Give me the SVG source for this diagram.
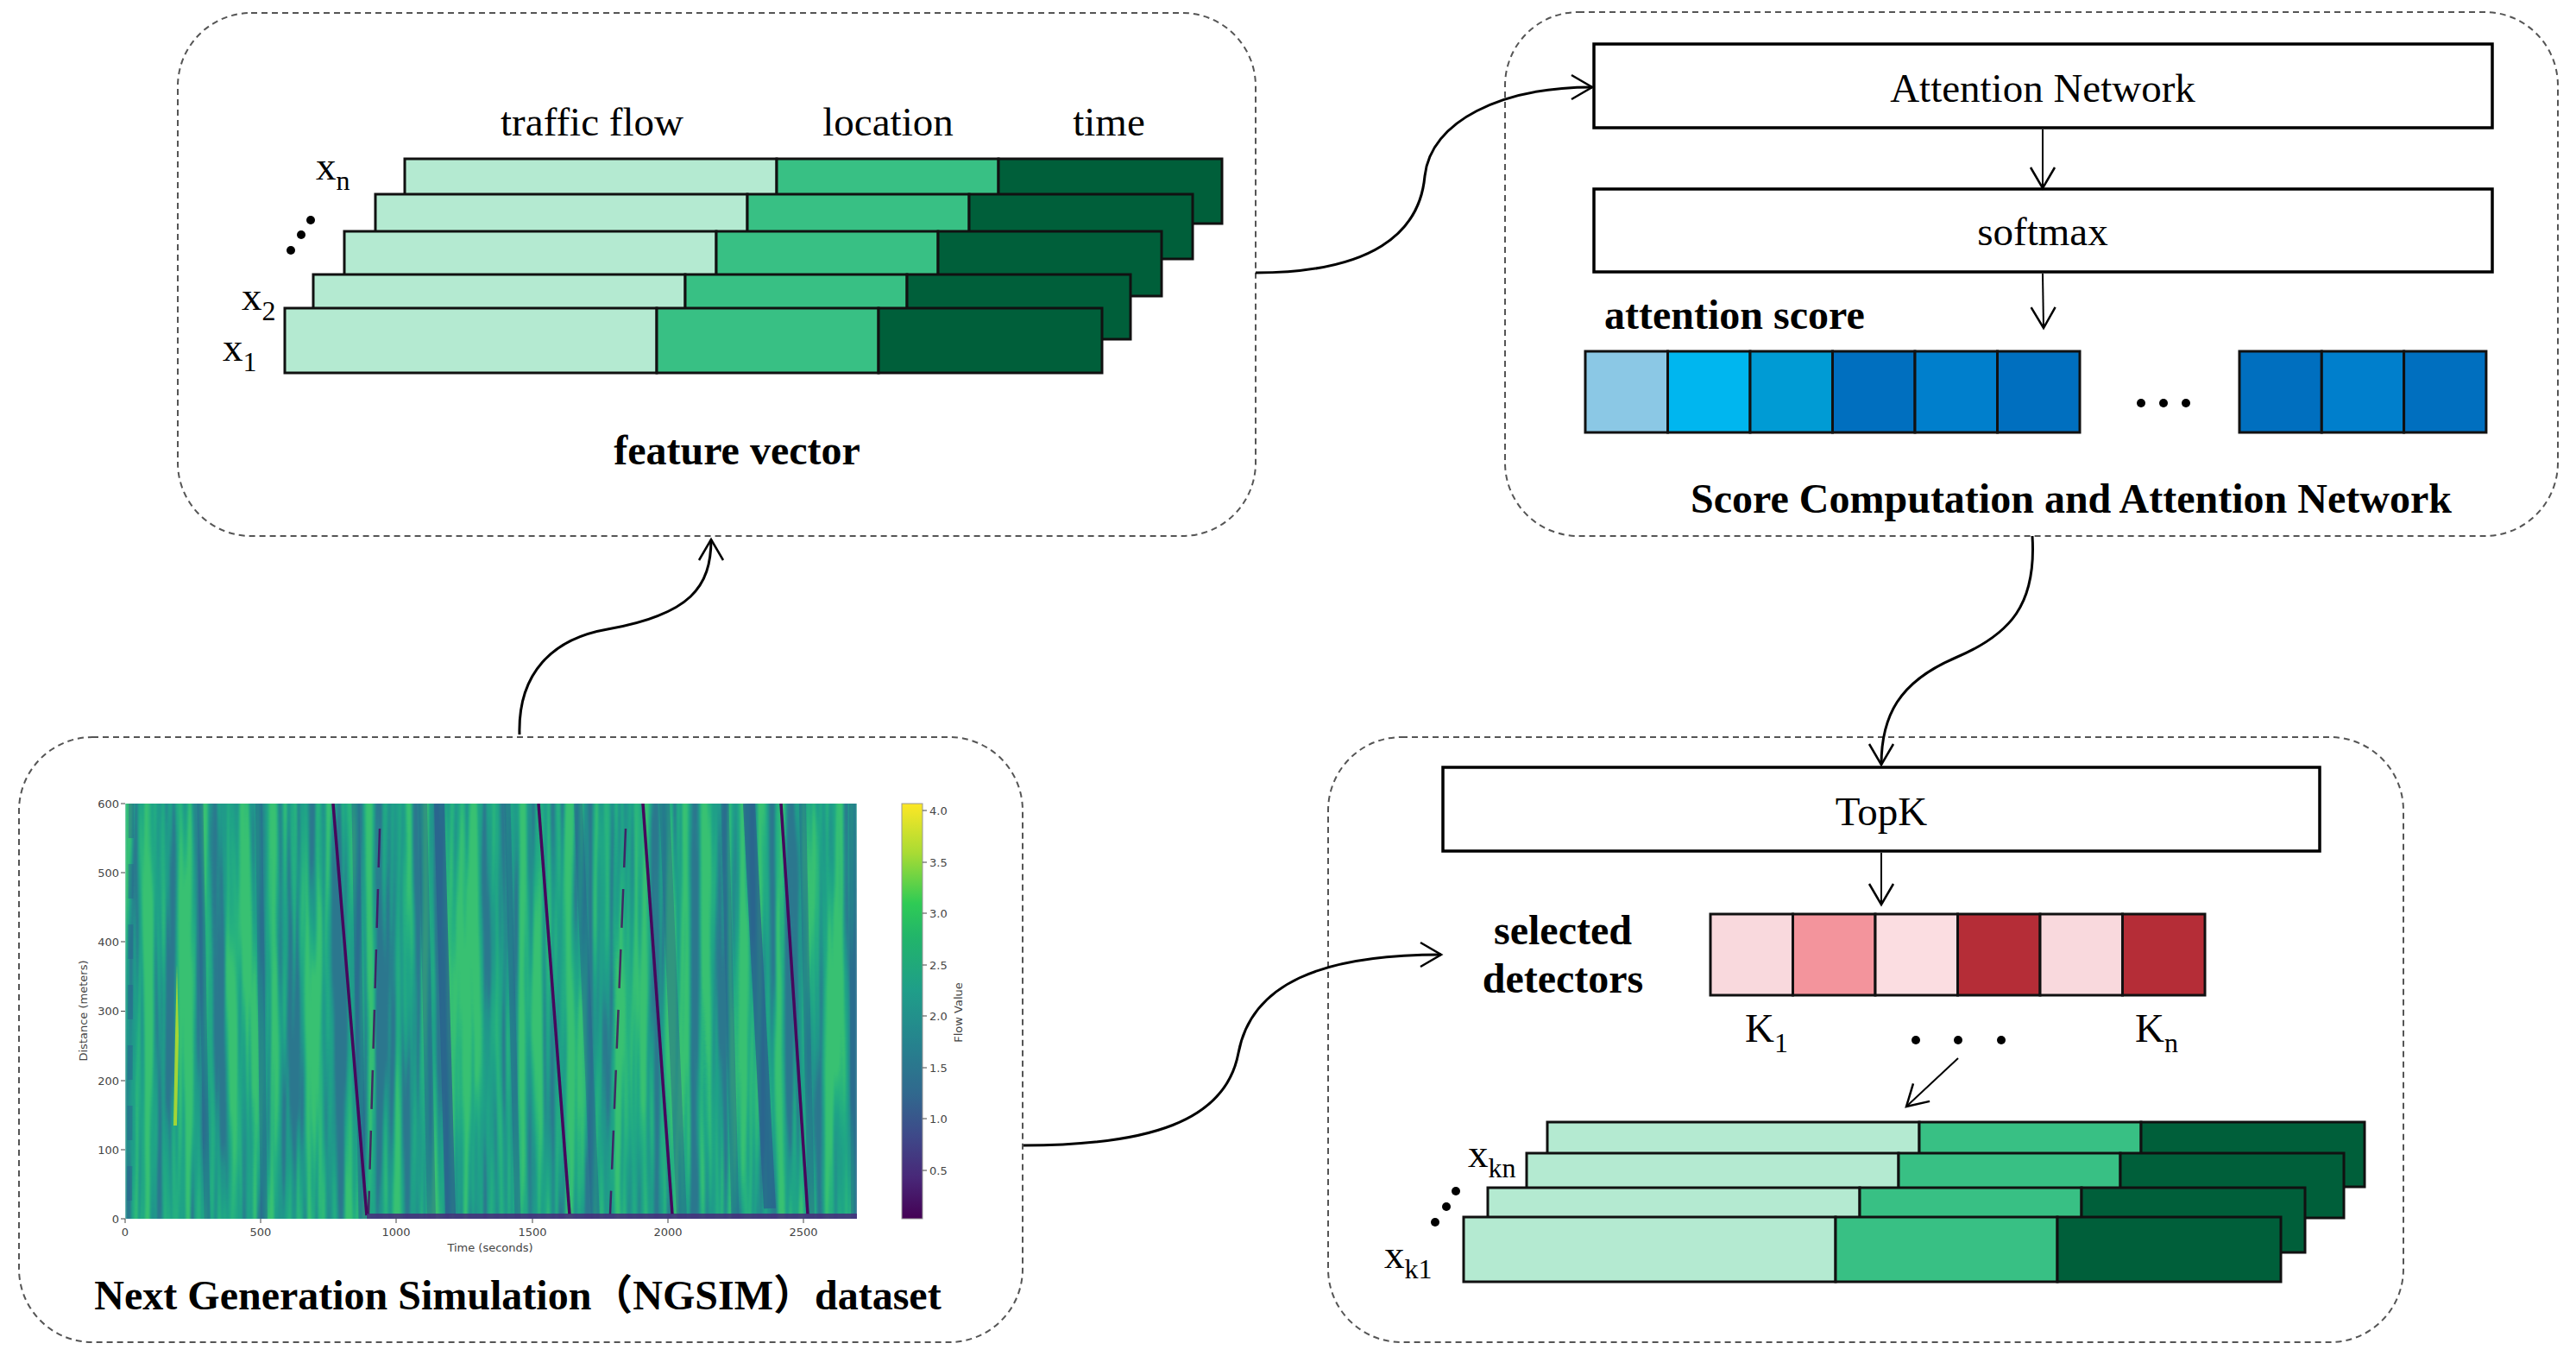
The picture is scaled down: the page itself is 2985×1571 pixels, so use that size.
<svg xmlns="http://www.w3.org/2000/svg" xmlns:xlink="http://www.w3.org/1999/xlink" width="2985" height="1571" viewBox="0 0 2985 1571">
<style>
.lbl{font-family:"Liberation Serif","Times New Roman",serif;font-size:47px;fill:#000}
.bold{font-family:"Liberation Serif","Times New Roman","Noto Sans CJK SC",serif;font-size:48px;font-weight:bold;fill:#000}
.tick{font-family:"DejaVu Sans","Liberation Sans",sans-serif;font-size:13px;fill:#444}
.dash{fill:none;stroke:#555;stroke-width:2;stroke-dasharray:7 5}
.box{fill:#fff;stroke:#000;stroke-width:3.5}
.cell{stroke:#111;stroke-width:3}
.conn{fill:none;stroke:#000;stroke-width:3;marker-end:url(#arr)}
.inner{fill:none;stroke:#000;stroke-width:2;marker-end:url(#arr)}
.tk{stroke:#444;stroke-width:1}
</style>
<defs>
<marker id="arr" viewBox="0 0 30 34" refX="27" refY="17" markerWidth="30" markerHeight="34" markerUnits="userSpaceOnUse" orient="auto">
<path d="M3,3 L27,17 L3,31" fill="none" stroke="#000" stroke-width="2.5"/>
</marker>
<g id="bar">
<rect x="0" y="0" width="431" height="75" fill="#b4ead1" class="cell"/>
<rect x="431" y="0" width="257" height="75" fill="#38c084" class="cell"/>
<rect x="688" y="0" width="259" height="75" fill="#005f3a" class="cell"/>
</g>
<linearGradient id="viridis" x1="0" y1="1" x2="0" y2="0">
<stop offset="0" stop-color="#440154"/>
<stop offset="0.1" stop-color="#482878"/>
<stop offset="0.2" stop-color="#3e4989"/>
<stop offset="0.3" stop-color="#31688e"/>
<stop offset="0.42" stop-color="#26828e"/>
<stop offset="0.55" stop-color="#1f9e89"/>
<stop offset="0.68" stop-color="#22b56a"/>
<stop offset="0.76" stop-color="#2fcb55"/>
<stop offset="0.88" stop-color="#a8db34"/>
<stop offset="1" stop-color="#fde725"/>
</linearGradient>
<filter id="streaks" x="0" y="0" width="1" height="1" color-interpolation-filters="sRGB">
<feTurbulence type="fractalNoise" baseFrequency="0.09 0.0022" numOctaves="3" seed="11"/>
<feColorMatrix type="matrix" values="3.2 0 0 0 -1.1 3.2 0 0 0 -1.1 3.2 0 0 0 -1.1 0 0 0 0 1"/>
<feComponentTransfer>
<feFuncR type="table" tableValues="0.17 0.13 0.12 0.15 0.22"/>
<feFuncG type="table" tableValues="0.47 0.58 0.64 0.70 0.76"/>
<feFuncB type="table" tableValues="0.56 0.55 0.53 0.50 0.45"/>
</feComponentTransfer>
<feGaussianBlur stdDeviation="1.2 0"/>
</filter>
<clipPath id="plotclip"><rect x="145" y="931" width="848" height="481"/></clipPath>
</defs>
<rect width="2985" height="1571" fill="#fff"/>

<g id="node-feature-vector">
<rect x="206" y="15" width="1249" height="606" rx="85" class="dash"/>
<text x="686" y="157" text-anchor="middle" class="lbl">traffic flow</text>
<text x="1029" y="157" text-anchor="middle" class="lbl">location</text>
<text x="1285" y="157" text-anchor="middle" class="lbl">time</text>
<use xlink:href="#bar" x="469" y="184"/>
<use xlink:href="#bar" x="435" y="225"/>
<use xlink:href="#bar" x="399" y="268"/>
<use xlink:href="#bar" x="363" y="318"/>
<use xlink:href="#bar" x="330" y="357"/>
<text x="366" y="208" class="lbl" font-size="50">x<tspan font-size="32" dy="12">n</tspan></text>
<text x="280" y="359" class="lbl" font-size="50">x<tspan font-size="32" dy="12">2</tspan></text>
<text x="258" y="418" class="lbl" font-size="50">x<tspan font-size="32" dy="12">1</tspan></text>
<circle cx="360" cy="255" r="5"/><circle cx="349" cy="272" r="5"/><circle cx="337" cy="290" r="5"/>
<text x="854" y="538" text-anchor="middle" class="bold">feature vector</text>
</g>

<g id="node-score-attention">
<rect x="1744" y="14" width="1220" height="607" rx="85" class="dash"/>
<rect x="1847" y="51" width="1041" height="97" class="box"/>
<text x="2367" y="118" text-anchor="middle" class="lbl">Attention Network</text>
<rect x="1847" y="219" width="1041" height="96" class="box"/>
<text x="2367" y="284" text-anchor="middle" class="lbl">softmax</text>
<text x="1859" y="381" class="bold">attention score</text>
<rect x="1837" y="407" width="95.5" height="94" fill="#8bc8e5" class="cell"/>
<rect x="1932.5" y="407" width="95.5" height="94" fill="#00b6ef" class="cell"/>
<rect x="2028" y="407" width="95.5" height="94" fill="#009bd4" class="cell"/>
<rect x="2123.5" y="407" width="95.5" height="94" fill="#006fbf" class="cell"/>
<rect x="2219" y="407" width="95.5" height="94" fill="#007fcc" class="cell"/>
<rect x="2314.5" y="407" width="95.5" height="94" fill="#006fbf" class="cell"/>
<circle cx="2481" cy="467" r="5"/><circle cx="2507" cy="467" r="5"/><circle cx="2533" cy="467" r="5"/>
<rect x="2595" y="407" width="95.3" height="94" fill="#006fbf" class="cell"/>
<rect x="2690.3" y="407" width="95.3" height="94" fill="#007fcc" class="cell"/>
<rect x="2785.6" y="407" width="95.3" height="94" fill="#006fbf" class="cell"/>
<text x="2400" y="594" text-anchor="middle" class="bold">Score Computation and Attention Network</text>
</g>

<g id="node-ngsim">
<rect x="22" y="854" width="1163" height="701" rx="85" class="dash"/>
<g clip-path="url(#plotclip)">
<rect x="145" y="931" width="848" height="481" fill="#1f9e89" filter="url(#streaks)"/>
<g fill="none" stroke="#2b5f8e" stroke-opacity="0.45">
<path d="M152,931 L150,1412" stroke-width="6" stroke-dasharray="40 30"/>
<path d="M232,931 L240,1412" stroke-width="7"/>
<path d="M300,931 L306,1412" stroke-width="8"/>
<path d="M412,931 L420,1412" stroke-width="9"/>
<path d="M490,931 L500,1412" stroke-width="10"/>
<path d="M509,931 L522,1407" stroke-width="12" stroke-opacity="0.75"/>
<path d="M588,931 L600,1412" stroke-width="7"/>
<path d="M670,931 L690,1412" stroke-width="10"/>
<path d="M770,931 L790,1412" stroke-width="12"/>
<path d="M840,931 L852,1412" stroke-width="9"/>
<path d="M868,931 L892,1400" stroke-width="14" stroke-opacity="0.75"/>
<path d="M930,931 L940,1412" stroke-width="8"/>
<path d="M988,931 L990,1412" stroke-width="8"/>
</g>
<path d="M201,1304 L203,1200 L205,1117 L207,1200 L205,1304 Z" fill="#b8de29" fill-opacity="0.85"/>
<g fill="none" stroke="#46085c">
<path d="M386,931 L425,1408" stroke-width="3.5"/>
<path d="M624,931 L660,1407" stroke-width="3.5"/>
<path d="M745,931 L779,1407" stroke-width="3.5"/>
<path d="M905,931 L936,1407" stroke-width="3.5"/>
<path d="M440,960 L427,1407" stroke-width="2.5" stroke-opacity="0.8" stroke-dasharray="45 25"/>
<path d="M725,960 L707,1407" stroke-width="2.5" stroke-opacity="0.8" stroke-dasharray="45 25"/>
</g>
<rect x="425" y="1406" width="568" height="6" fill="#472d7b" fill-opacity="0.85"/>
</g>
<rect x="1045" y="931" width="24" height="481" fill="url(#viridis)" stroke="#999" stroke-width="1"/>
<g class="tk">
<path d="M140,931H145M140,1011H145M140,1091H145M140,1171.5H145M140,1252H145M140,1332H145M140,1412H145"/>
<path d="M145,1412V1417M302,1412V1417M459,1412V1417M617,1412V1417M774,1412V1417M931,1412V1417"/>
<path d="M1069,939H1074M1069,999H1074M1069,1058H1074M1069,1118H1074M1069,1177H1074M1069,1237H1074M1069,1296H1074M1069,1356H1074"/>
</g>
<g class="tick" text-anchor="end">
<text x="138" y="936">600</text><text x="138" y="1016">500</text><text x="138" y="1096">400</text><text x="138" y="1176">300</text><text x="138" y="1257">200</text><text x="138" y="1337">100</text><text x="138" y="1417">0</text>
</g>
<g class="tick" text-anchor="middle">
<text x="145" y="1432">0</text><text x="302" y="1432">500</text><text x="459" y="1432">1000</text><text x="617" y="1432">1500</text><text x="774" y="1432">2000</text><text x="931" y="1432">2500</text>
<text x="568" y="1450">Time (seconds)</text>
<text transform="translate(101,1171) rotate(-90)">Distance (meters)</text>
<text transform="translate(1115,1173) rotate(-90)">Flow Value</text>
</g>
<g class="tick">
<text x="1077" y="944">4.0</text><text x="1077" y="1004">3.5</text><text x="1077" y="1063">3.0</text><text x="1077" y="1123">2.5</text><text x="1077" y="1182">2.0</text><text x="1077" y="1242">1.5</text><text x="1077" y="1301">1.0</text><text x="1077" y="1361">0.5</text>
</g>
<text x="600" y="1517" text-anchor="middle" class="bold">Next Generation Simulation（NGSIM）dataset</text>
</g>

<g id="node-selected-detectors">
<rect x="1539" y="854" width="1246" height="701" rx="85" class="dash"/>
<rect x="1672" y="889" width="1016" height="97" class="box"/>
<text x="2180" y="956" text-anchor="middle" class="lbl">TopK</text>
<text x="1811" y="1094" text-anchor="middle" class="bold">selected</text>
<text x="1811" y="1150" text-anchor="middle" class="bold">detectors</text>
<rect x="1982" y="1059" width="95.5" height="94" fill="#f9d9dd" class="cell"/>
<rect x="2077.5" y="1059" width="95.5" height="94" fill="#f3949c" class="cell"/>
<rect x="2173" y="1059" width="95.5" height="94" fill="#fbdde1" class="cell"/>
<rect x="2268.5" y="1059" width="95.5" height="94" fill="#b52d37" class="cell"/>
<rect x="2364" y="1059" width="95.5" height="94" fill="#f9d9dd" class="cell"/>
<rect x="2459.5" y="1059" width="95.5" height="94" fill="#b52d37" class="cell"/>
<text x="2022" y="1207" class="lbl" font-size="50">K<tspan font-size="32" dy="12">1</tspan></text>
<text x="2474" y="1207" class="lbl" font-size="50">K<tspan font-size="32" dy="12">n</tspan></text>
<circle cx="2220" cy="1205" r="5"/><circle cx="2269" cy="1205" r="5"/><circle cx="2319" cy="1205" r="5"/>
<use xlink:href="#bar" x="1793" y="1300"/>
<use xlink:href="#bar" x="1769" y="1336"/>
<use xlink:href="#bar" x="1724" y="1376"/>
<use xlink:href="#bar" x="1696" y="1410"/>
<text x="1701" y="1352" class="lbl" font-size="50">x<tspan font-size="32" dy="12">kn</tspan></text>
<text x="1604" y="1469" class="lbl" font-size="50">x<tspan font-size="32" dy="12">k1</tspan></text>
<circle cx="1687" cy="1380" r="5"/><circle cx="1676" cy="1398" r="5"/><circle cx="1663" cy="1416" r="5"/>
</g>

<g id="connectors">
<path class="conn" d="M602,851 C600,780 640,740 704,729 C800,712 824,680 824,625"/>
<path class="conn" d="M1455,316 C1590,316 1645,270 1651,204 C1658,140 1740,101 1845,101"/>
<path class="conn" d="M2355,621 C2360,700 2330,735 2266,762 C2200,790 2180,830 2180,886"/>
<path class="conn" d="M1186,1327 C1330,1327 1420,1300 1435,1220 C1450,1140 1530,1106 1670,1106"/>
<path class="inner" d="M2367,150 L2367,218"/>
<path class="inner" d="M2367,317 L2368,380"/>
<path class="inner" d="M2180,988 L2180,1048"/>
<path class="inner" d="M2269,1226 L2209,1282"/>
</g>
</svg>
